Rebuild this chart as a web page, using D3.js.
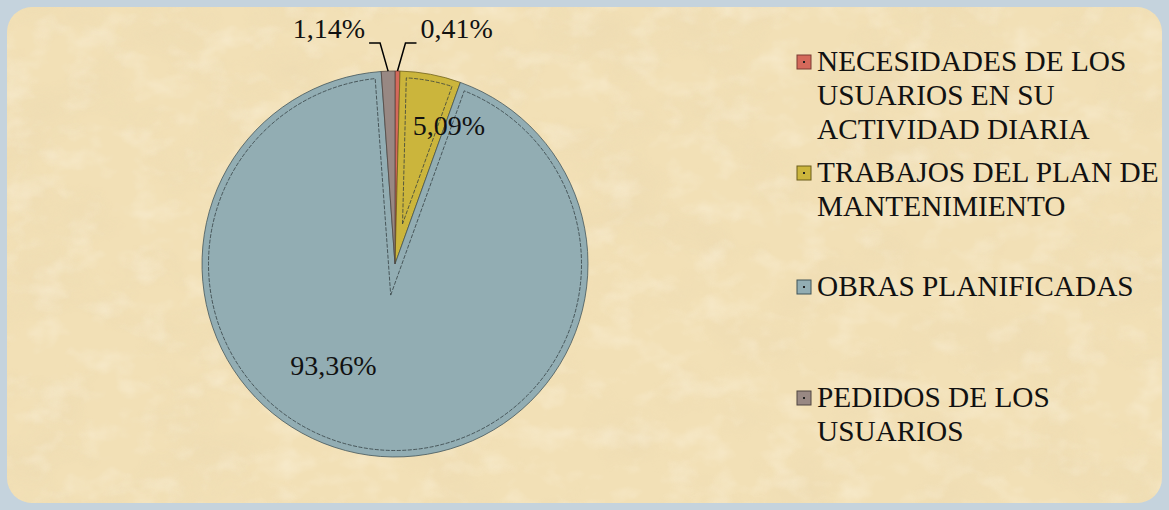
<!DOCTYPE html>
<html>
<head>
<meta charset="utf-8">
<script src="https://cdn.jsdelivr.net/npm/d3@7"></script>
<style>
  html, body { margin: 0; padding: 0; background: #c5d3dd; }
  svg { display: block; }
</style>
</head>
<body>
<svg id="chart" width="1169" height="510"></svg>
<script>
// ---- data ----
const categories = [
  "NECESIDADES DE LOS USUARIOS EN SU ACTIVIDAD DIARIA",
  "TRABAJOS DEL PLAN DE MANTENIMIENTO",
  "OBRAS PLANIFICADAS",
  "PEDIDOS DE LOS USUARIOS"
];
const values = [0.41, 5.09, 93.36, 1.14];
const valueLabels = ["0,41%", "5,09%", "93,36%", "1,14%"];
const legendLines = [
  ["NECESIDADES DE LOS", "USUARIOS EN SU", "ACTIVIDAD DIARIA"],
  ["TRABAJOS DEL PLAN DE", "MANTENIMIENTO"],
  ["OBRAS PLANIFICADAS"],
  ["PEDIDOS DE LOS", "USUARIOS"]
];

// ---- styles ----
const FONT = '"Liberation Serif"';
const colors = ["#d4695b", "#cbb53c", "#92adb3", "#988883"];
const strokeColors = ["#7a3a32", "#6b5d1a", "#3f5257", "#4f4541"];

const svg = d3.select("#chart");
const W = 1169, H = 510;

// background texture
const defs = svg.append("defs");
const f = defs.append("filter").attr("id", "parch").attr("x", 0).attr("y", 0).attr("width", 1).attr("height", 1);
f.append("feTurbulence").attr("type", "fractalNoise").attr("baseFrequency", "0.012 0.016")
  .attr("numOctaves", 5).attr("seed", 7).attr("result", "n");
f.append("feColorMatrix").attr("in", "n").attr("type", "matrix")
  .attr("values", "0 0 0 0 0.80  0 0 0 0 0.66  0 0 0 0 0.42  1.4 0 0 0 -0.64");
const f2 = defs.append("filter").attr("id", "parch2").attr("x", 0).attr("y", 0).attr("width", 1).attr("height", 1);
f2.append("feTurbulence").attr("type", "fractalNoise").attr("baseFrequency", "0.03 0.04")
  .attr("numOctaves", 3).attr("seed", 3).attr("result", "n");
f2.append("feColorMatrix").attr("in", "n").attr("type", "matrix")
  .attr("values", "0 0 0 0 1  0 0 0 0 0.96  0 0 0 0 0.86  0 1.6 0 0 -0.75");

defs.append("clipPath").attr("id", "inner").append("rect")
  .attr("x", 7).attr("y", 7).attr("width", 1155).attr("height", 496).attr("rx", 25);

svg.append("rect").attr("width", W).attr("height", H).attr("fill", "#c5d3dd");
const bg = svg.append("g").attr("clip-path", "url(#inner)");
bg.append("rect").attr("x", 7).attr("y", 7).attr("width", 1155).attr("height", 496).attr("fill", "#f2e0b6");
bg.append("rect").attr("x", 7).attr("y", 7).attr("width", 1155).attr("height", 496).attr("filter", "url(#parch)").attr("opacity", 0.45);
bg.append("rect").attr("x", 7).attr("y", 7).attr("width", 1155).attr("height", 496).attr("filter", "url(#parch2)").attr("opacity", 0.45);

// ---- pie ----
const cx = 395, cy = 264, R = 193, inset = 6.5;
const pie = d3.pie().sort(null).value(d => d)(values);
const arc = d3.arc().innerRadius(0).outerRadius(R);
const g = svg.append("g").attr("transform", `translate(${cx},${cy})`);

g.selectAll("path.slice").data(pie).join("path")
  .attr("class", "slice")
  .attr("d", arc)
  .attr("fill", (d, i) => colors[i])
  .attr("stroke", (d, i) => strokeColors[i])
  .attr("stroke-width", 0.9)
  .attr("stroke-opacity", 0.85);

function insetPath(d) {
  const a0 = d.startAngle, a1 = d.endAngle, th = a1 - a0;
  const half = th / 2;
  const dist = inset / Math.sin(half);
  const r2 = R - inset;
  if (dist > r2 * 0.8) return null;
  const mid = a0 + half;
  const px = dist * Math.sin(mid), py = -dist * Math.cos(mid);
  const del = Math.asin(inset / r2);
  const s = a0 + del, e = a1 - del;
  const p = d3.path();
  p.moveTo(px, py);
  p.lineTo(r2 * Math.sin(s), -r2 * Math.cos(s));
  p.arc(0, 0, r2, s - Math.PI / 2, e - Math.PI / 2, false);
  p.closePath();
  return p.toString();
}
g.selectAll("path.inset").data(pie.filter(d => insetPath(d))).join("path")
  .attr("class", "inset")
  .attr("d", insetPath)
  .attr("fill", "none")
  .attr("stroke", "#2f3a3c")
  .attr("stroke-opacity", 0.75)
  .attr("stroke-width", 1)
  .attr("stroke-dasharray", "4 1.5");

// ---- labels ----
const fsLabel = 28, fsLegend = 29.3;
function txt(sel, fs) {
  return sel.style("font-family", FONT).style("font-size", fs + "px").attr("fill", "#111");
}
const labelArc = d3.arc().innerRadius(R * 0.72).outerRadius(R * 0.72);
const yc = labelArc.centroid(pie[1]);
txt(g.append("text"), fsLabel).attr("x", yc[0] - 8).attr("y", yc[1] + 8)
  .attr("text-anchor", "start").text(valueLabels[1]);
const bc = d3.arc().innerRadius(R * 0.55).outerRadius(R * 0.55).centroid(pie[2]);
txt(g.append("text"), fsLabel).attr("x", bc[0] - 47).attr("y", bc[1] + 6)
  .attr("text-anchor", "middle").text(valueLabels[2]);

const outerPt = d3.arc().innerRadius(R).outerRadius(R);
const leaderY = 43 - cy;
[[0, 1], [3, -1]].forEach(([i, dir]) => {
  const p0 = outerPt.centroid(pie[i]);
  const p1 = [p0[0] + dir * 8, leaderY];
  const p2 = [p1[0] + dir * 11, leaderY];
  g.append("path").attr("d", d3.line()([p0, p1, p2]))
    .attr("fill", "none").attr("stroke", "#000").attr("stroke-width", 1.5);
  txt(g.append("text"), fsLabel).attr("x", p2[0] + dir * 4).attr("y", leaderY - 5)
    .attr("text-anchor", dir > 0 ? "start" : "end").text(valueLabels[i]);
});

// ---- legend ----
const legendY = [62, 173, 287, 398];
const lg = svg.append("g");
categories.forEach((c, i) => {
  const y = legendY[i];
  lg.append("rect").attr("x", 797).attr("y", y - 7).attr("width", 14).attr("height", 14)
    .attr("fill", colors[i]).attr("stroke", strokeColors[i]).attr("stroke-width", 1);
  lg.append("rect").attr("x", 803).attr("y", y - 1).attr("width", 2).attr("height", 2).attr("fill", "#222");
  const t = txt(lg.append("text"), fsLegend).attr("x", 817).attr("y", y + 9);
  legendLines[i].forEach((ln, j) => {
    t.append("tspan").attr("x", 817).attr("dy", j === 0 ? 0 : 34).text(ln);
  });
});
</script>
</body>
</html>
